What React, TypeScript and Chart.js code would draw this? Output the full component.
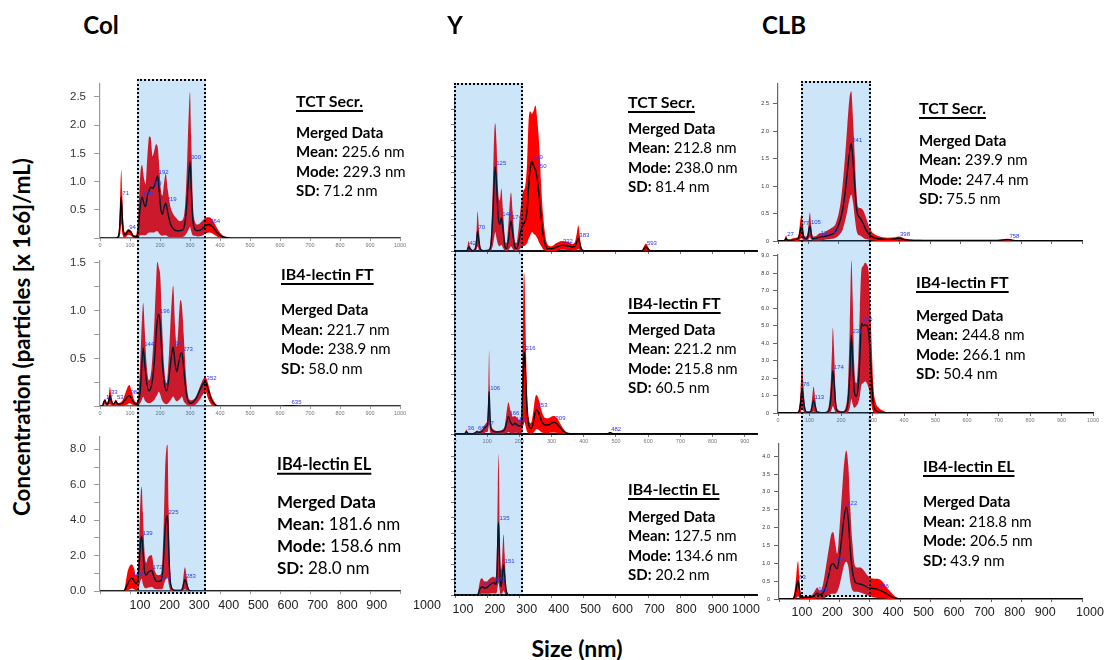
import React, { useEffect, useRef } from 'react';
import { Chart, registerables } from 'chart.js';

Chart.register(...registerables);

// ---------------- Size distributions (size in nm, concentration) ----------------

// Col — TCT Secr.
const colTctSize = [0, 50, 60, 65, 68, 71, 74, 78, 84, 94, 104, 112, 120, 128, 134, 140, 147, 152, 158, 164, 169, 175, 181, 187, 192, 197, 203, 208, 214, 219, 226, 235, 245, 255, 265, 275, 284, 290, 295, 300, 304, 309, 316, 325, 340, 352, 364, 375, 390, 405, 420, 440, 1000];
const colTctMean = [0, 0, 0.02, 0.15, 0.45, 0.73, 0.4, 0.12, 0.06, 0.13, 0.1, 0.03, 0.02, 0.15, 0.55, 0.73, 0.6, 0.56, 0.75, 0.85, 0.9, 0.88, 0.92, 1.02, 1.1, 0.85, 0.5, 0.42, 0.55, 0.62, 0.45, 0.25, 0.16, 0.13, 0.13, 0.14, 0.3, 0.65, 1.05, 1.36, 0.9, 0.35, 0.16, 0.13, 0.16, 0.22, 0.24, 0.2, 0.1, 0.03, 0.01, 0, 0];
const colTctHigh = [0, 0, 0.04, 0.35, 0.9, 1.21, 0.8, 0.25, 0.1, 0.16, 0.13, 0.05, 0.05, 0.45, 1.1, 1.3, 1.05, 0.95, 1.45, 1.8, 1.78, 1.45, 1.55, 1.66, 1.62, 1.3, 0.85, 0.75, 1.0, 1.14, 0.85, 0.55, 0.42, 0.35, 0.3, 0.32, 0.6, 1.3, 2.1, 2.59, 1.8, 0.7, 0.3, 0.24, 0.3, 0.36, 0.37, 0.32, 0.18, 0.07, 0.02, 0, 0];
const colTctLow = [0, 0, 0, 0.02, 0.1, 0.25, 0.1, 0.02, 0.01, 0.06, 0.04, 0, 0, 0.02, 0.05, 0.05, 0.05, 0.05, 0.08, 0.1, 0.1, 0.1, 0.1, 0.12, 0.12, 0.08, 0.05, 0.04, 0.05, 0.05, 0.03, 0.02, 0.02, 0.02, 0.02, 0.02, 0.05, 0.1, 0.15, 0.2, 0.12, 0.05, 0.04, 0.03, 0.04, 0.08, 0.1, 0.08, 0.03, 0, 0, 0, 0];
const colTctPeaks = [71, 94, 140, 169, 192, 219, 300, 364];

// Col — IB4-lectin FT
const colFtSize = [0, 8, 12, 17, 22, 28, 33, 38, 45, 53, 60, 75, 85, 92, 98, 105, 112, 120, 128, 134, 139, 144, 149, 155, 163, 172, 180, 187, 191, 196, 201, 207, 214, 222, 230, 237, 244, 250, 256, 262, 268, 273, 279, 287, 296, 305, 320, 335, 345, 352, 360, 370, 382, 395, 600, 635, 670, 1000];
const colFtMean = [0, 0, 0.04, 0.06, 0.02, 0.04, 0.11, 0.05, 0.02, 0.05, 0.02, 0.03, 0.07, 0.1, 0.11, 0.08, 0.04, 0.02, 0.05, 0.15, 0.4, 0.61, 0.45, 0.26, 0.16, 0.22, 0.42, 0.75, 0.9, 0.96, 0.85, 0.5, 0.25, 0.16, 0.3, 0.5, 0.62, 0.45, 0.36, 0.45, 0.54, 0.56, 0.4, 0.15, 0.04, 0.03, 0.08, 0.18, 0.24, 0.25, 0.18, 0.08, 0.02, 0, 0, 0.005, 0, 0];
const colFtHigh = [0, 0, 0.05, 0.08, 0.03, 0.08, 0.2, 0.1, 0.03, 0.07, 0.03, 0.06, 0.14, 0.2, 0.22, 0.16, 0.08, 0.04, 0.12, 0.45, 0.85, 1.08, 0.8, 0.45, 0.27, 0.4, 0.8, 1.3, 1.51, 1.45, 1.35, 0.85, 0.4, 0.24, 0.55, 1.0, 1.26, 0.85, 0.62, 0.85, 1.11, 1.05, 0.75, 0.3, 0.08, 0.06, 0.1, 0.22, 0.29, 0.3, 0.24, 0.12, 0.04, 0, 0, 0.008, 0, 0];
const colFtLow = [0, 0, 0.01, 0.02, 0, 0.01, 0.02, 0.01, 0, 0.01, 0, 0, 0.01, 0.02, 0.03, 0.02, 0.01, 0, 0.01, 0.03, 0.06, 0.1, 0.06, 0.04, 0.03, 0.04, 0.06, 0.1, 0.12, 0.15, 0.12, 0.06, 0.03, 0.02, 0.04, 0.07, 0.1, 0.07, 0.05, 0.06, 0.08, 0.1, 0.05, 0.02, 0, 0, 0.02, 0.08, 0.13, 0.15, 0.08, 0.02, 0, 0, 0, 0, 0, 0];
const colFtPeaks = [17, 33, 53, 98, 144, 196, 244, 273, 352, 635];

// Col — IB4-lectin EL
const colElSize = [0, 78, 84, 92, 100, 106, 113, 120, 126, 131, 135, 139, 143, 148, 154, 160, 166, 172, 180, 188, 194, 201, 207, 212, 217, 221, 225, 229, 233, 239, 250, 270, 276, 280, 283, 288, 294, 300, 310, 1000];
const colElMean = [0, 0, 0.1, 0.4, 0.65, 0.73, 0.6, 0.42, 0.6, 1.6, 2.7, 3.08, 2.3, 1.2, 0.9, 1.05, 1.12, 1.17, 0.8, 0.55, 0.55, 0.56, 0.8, 1.8, 3.5, 4.1, 4.25, 2.4, 0.8, 0.15, 0.04, 0.04, 0.2, 0.5, 0.64, 0.45, 0.12, 0.02, 0, 0];
const colElHigh = [0, 0, 0.3, 1.1, 1.45, 1.5, 1.3, 0.9, 1.2, 3.2, 5.2, 5.9, 4.4, 2.3, 1.6, 1.9, 2.0, 2.04, 1.3, 0.95, 0.9, 0.92, 1.5, 3.6, 6.8, 8.0, 8.26, 4.6, 1.6, 0.3, 0.08, 0.08, 0.45, 1.1, 1.34, 0.9, 0.25, 0.04, 0, 0];
const colElLow = [0, 0, 0, 0.05, 0.1, 0.15, 0.1, 0.05, 0.1, 0.3, 0.6, 0.7, 0.4, 0.2, 0.15, 0.2, 0.22, 0.25, 0.15, 0.1, 0.1, 0.1, 0.1, 0.3, 0.6, 0.7, 0.8, 0.4, 0.1, 0, 0, 0, 0.02, 0.08, 0.1, 0.06, 0.01, 0, 0, 0];
const colElPeaks = [106, 139, 172, 201, 225, 283];

// Y — TCT Secr.
const yTctSize = [0, 35, 38, 42, 47, 55, 62, 67, 70, 74, 79, 90, 105, 112, 118, 122, 125, 129, 134, 139, 144, 149, 155, 160, 166, 171, 174, 179, 185, 191, 198, 205, 212, 218, 224, 229, 234, 239, 244, 250, 256, 262, 268, 274, 281, 288, 300, 315, 332, 350, 365, 373, 379, 383, 387, 392, 400, 580, 587, 593, 600, 608, 938];
const yTctMean = [0, 0, 0.05, 0.25, 0.12, 0.02, 0.1, 0.6, 1.25, 0.7, 0.1, 0.02, 0.05, 0.5, 2.5, 4.6, 5.35, 4.2, 2.2, 1.7, 2.1, 1.4, 0.3, 0.15, 0.7, 1.6, 1.91, 1.2, 0.3, 0.15, 0.6, 1.3, 1.7, 1.9, 2.6, 4.2, 5.3, 5.71, 5.4, 5.14, 4.5, 3.3, 2.0, 1.0, 0.35, 0.15, 0.15, 0.25, 0.36, 0.33, 0.25, 0.3, 0.6, 0.79, 0.55, 0.15, 0.02, 0, 0.15, 0.25, 0.12, 0, 0];
const yTctHigh = [0, 0, 0.15, 0.64, 0.3, 0.05, 0.2, 1.3, 2.53, 1.5, 0.25, 0.04, 0.1, 1.1, 4.5, 7.5, 8.11, 6.8, 3.8, 3.2, 3.97, 2.6, 0.8, 0.5, 1.8, 3.3, 3.72, 2.5, 0.8, 0.5, 1.5, 2.9, 3.8, 4.08, 5.6, 8.4, 8.85, 8.7, 8.9, 9.24, 8.2, 6.6, 4.0, 2.2, 0.9, 0.4, 0.3, 0.5, 0.64, 0.58, 0.45, 0.6, 1.2, 1.63, 1.1, 0.3, 0.04, 0, 0.3, 0.47, 0.25, 0, 0];
const yTctLow = [0, 0, 0, 0.05, 0.02, 0, 0.01, 0.1, 0.3, 0.1, 0.01, 0, 0, 0.05, 0.4, 0.9, 1.2, 0.8, 0.4, 0.3, 0.4, 0.2, 0.02, 0, 0.05, 0.2, 0.3, 0.15, 0.02, 0, 0.05, 0.2, 0.3, 0.35, 0.5, 0.8, 1.0, 1.2, 1.1, 1.0, 0.8, 0.5, 0.3, 0.1, 0.02, 0, 0, 0.02, 0.08, 0.06, 0.03, 0.02, 0.08, 0.12, 0.06, 0.01, 0, 0, 0.01, 0.03, 0.01, 0, 0];
const yTctPeaks = [42, 70, 125, 144, 174, 239, 250, 332, 383, 593];

// Y — IB4-lectin FT
const yFtSize = [0, 30, 33, 36, 40, 55, 63, 68, 74, 85, 92, 97, 101, 104, 106, 108, 111, 118, 130, 145, 155, 161, 166, 172, 180, 186, 193, 200, 206, 209, 212, 214, 216, 219, 223, 229, 236, 243, 248, 253, 260, 270, 280, 290, 300, 309, 320, 333, 345, 360, 470, 478, 482, 488, 495, 938];
const yFtMean = [0, 0, 0.08, 0.12, 0.03, 0.02, 0.06, 0.12, 0.08, 0.15, 0.3, 0.37, 0.45, 1.3, 2.13, 1.2, 0.35, 0.15, 0.1, 0.12, 0.25, 0.6, 0.87, 0.6, 0.45, 0.54, 0.45, 0.4, 0.45, 1.5, 3.2, 3.9, 4.11, 3.0, 1.4, 0.45, 0.29, 0.55, 1.0, 1.24, 1.05, 0.6, 0.45, 0.45, 0.55, 0.59, 0.45, 0.2, 0.05, 0.01, 0, 0.04, 0.07, 0.03, 0, 0];
const yFtHigh = [0, 0, 0.15, 0.23, 0.06, 0.04, 0.1, 0.18, 0.14, 0.25, 0.45, 0.55, 0.8, 2.6, 4.18, 2.4, 0.6, 0.25, 0.15, 0.2, 0.45, 1.2, 1.6, 1.2, 0.87, 0.9, 0.8, 0.7, 0.9, 3.5, 6.8, 8.12, 7.8, 5.5, 2.6, 0.8, 0.54, 1.1, 1.75, 1.96, 1.75, 1.1, 0.8, 0.79, 0.88, 0.9, 0.72, 0.35, 0.1, 0.02, 0, 0.06, 0.1, 0.05, 0, 0];
const yFtLow = [0, 0, 0, 0.02, 0, 0, 0, 0.02, 0.01, 0.02, 0.05, 0.1, 0.1, 0.3, 0.5, 0.2, 0.05, 0.02, 0.01, 0.01, 0.02, 0.05, 0.1, 0.05, 0.04, 0.06, 0.05, 0.04, 0.05, 0.2, 0.4, 0.5, 0.6, 0.4, 0.15, 0.03, 0.02, 0.05, 0.15, 0.25, 0.2, 0.08, 0.05, 0.05, 0.07, 0.08, 0.05, 0.01, 0, 0, 0, 0, 0.01, 0, 0, 0];
const yFtPeaks = [36, 68, 97, 106, 166, 186, 216, 253, 309, 482];

// Y — IB4-lectin EL
const yElSize = [0, 70, 74, 79, 84, 92, 100, 110, 120, 126, 130, 133, 135, 137, 140, 143, 146, 149, 151, 154, 158, 163, 168, 938];
const yElMean = [0, 0, 0.2, 0.45, 0.54, 0.45, 0.5, 0.7, 0.8, 0.7, 1.2, 3.6, 4.73, 3.8, 1.2, 0.54, 1.0, 1.7, 1.95, 1.3, 0.4, 0.05, 0, 0];
const yElHigh = [0, 0, 0.5, 1.0, 1.08, 0.85, 0.9, 1.1, 1.19, 1.1, 2.6, 7.0, 9.18, 7.5, 2.4, 1.63, 2.2, 3.5, 3.95, 2.7, 0.9, 0.1, 0, 0];
const yElLow = [0, 0, 0, 0.05, 0.1, 0.08, 0.08, 0.1, 0.12, 0.1, 0.2, 0.6, 0.8, 0.6, 0.15, 0.05, 0.1, 0.2, 0.3, 0.15, 0.02, 0, 0, 0];
const yElPeaks = [84, 120, 135, 151];

// CLB — TCT Secr.
const clbTctSize = [0, 20, 24, 27, 31, 40, 50, 60, 68, 73, 77, 81, 86, 92, 99, 102, 105, 109, 114, 125, 137, 150, 165, 177, 190, 203, 212, 220, 228, 235, 241, 247, 252, 258, 263, 270, 280, 290, 302, 315, 330, 360, 385, 398, 420, 480, 600, 720, 745, 758, 775, 800, 1000];
const clbTctMean = [0, 0, 0.03, 0.05, 0.01, 0.01, 0.02, 0.03, 0.06, 0.18, 0.26, 0.18, 0.05, 0.04, 0.1, 0.22, 0.27, 0.15, 0.04, 0.05, 0.07, 0.08, 0.1, 0.12, 0.18, 0.35, 0.55, 0.85, 1.25, 1.6, 1.78, 1.45, 1.05, 0.6, 0.47, 0.42, 0.32, 0.2, 0.11, 0.06, 0.04, 0.03, 0.04, 0.05, 0.02, 0.01, 0.01, 0.01, 0.02, 0.025, 0.01, 0, 0];
const clbTctHigh = [0, 0, 0.07, 0.1, 0.03, 0.03, 0.05, 0.06, 0.12, 0.35, 0.48, 0.36, 0.1, 0.08, 0.2, 0.42, 0.52, 0.3, 0.08, 0.09, 0.14, 0.15, 0.2, 0.24, 0.32, 0.6, 1.0, 1.5, 2.1, 2.6, 2.73, 2.2, 1.6, 0.9, 0.62, 0.6, 0.56, 0.42, 0.23, 0.13, 0.09, 0.06, 0.07, 0.08, 0.04, 0.02, 0.02, 0.02, 0.035, 0.04, 0.02, 0, 0];
const clbTctLow = [0, 0, 0, 0.01, 0, 0, 0, 0, 0.01, 0.03, 0.06, 0.03, 0.01, 0.01, 0.02, 0.05, 0.07, 0.03, 0.01, 0.01, 0.01, 0.02, 0.03, 0.04, 0.06, 0.12, 0.2, 0.35, 0.55, 0.75, 0.85, 0.7, 0.45, 0.2, 0.12, 0.1, 0.06, 0.03, 0.02, 0.01, 0, 0, 0, 0.01, 0, 0, 0, 0, 0, 0, 0, 0, 0];
const clbTctPeaks = [27, 77, 105, 137, 177, 241, 398, 758];

// CLB — IB4-lectin FT
const clbFtSize = [0, 60, 67, 72, 76, 80, 85, 92, 103, 108, 113, 118, 124, 150, 160, 167, 172, 174, 178, 183, 190, 205, 215, 222, 228, 233, 237, 242, 249, 255, 260, 265, 270, 276, 282, 288, 293, 298, 303, 310, 320, 335, 350, 1000];
const clbFtMean = [0, 0, 0.1, 0.6, 1.42, 0.9, 0.25, 0.04, 0.05, 0.35, 0.72, 0.4, 0.05, 0.02, 0.1, 0.7, 1.9, 2.42, 1.8, 0.5, 0.08, 0.04, 0.12, 0.6, 2.2, 4.45, 3.0, 1.3, 0.95, 1.6, 3.2, 5.15, 5.0, 5.05, 5.0, 4.6, 3.2, 1.6, 0.5, 0.15, 0.05, 0.02, 0, 0];
const clbFtHigh = [0, 0, 0.3, 1.3, 2.75, 1.8, 0.5, 0.08, 0.1, 0.8, 1.52, 0.85, 0.12, 0.05, 0.3, 1.6, 3.9, 4.89, 3.6, 1.1, 0.2, 0.1, 0.35, 1.5, 5.0, 8.75, 6.6, 2.8, 1.7, 3.2, 6.0, 8.2, 8.4, 8.6, 8.5, 8.0, 6.0, 3.6, 1.5, 0.6, 0.3, 0.12, 0.02, 0];
const clbFtLow = [0, 0, 0, 0.05, 0.3, 0.15, 0.02, 0, 0, 0.03, 0.1, 0.04, 0, 0, 0, 0.05, 0.3, 0.4, 0.25, 0.03, 0, 0, 0, 0.05, 0.3, 0.8, 0.5, 0.3, 0.4, 0.6, 1.0, 1.6, 1.7, 1.8, 1.7, 1.4, 0.9, 0.3, 0.05, 0, 0, 0, 0, 0];
const clbFtPeaks = [76, 113, 174, 233, 265];

// CLB — IB4-lectin EL
const clbElSize = [0, 42, 50, 56, 60, 63, 67, 72, 80, 95, 110, 120, 126, 135, 145, 155, 165, 172, 179, 186, 192, 200, 208, 215, 222, 229, 235, 242, 250, 258, 268, 280, 293, 305, 315, 326, 340, 355, 370, 385, 400, 1000];
const clbElMean = [0, 0, 0.05, 0.25, 0.45, 0.51, 0.3, 0.04, 0.04, 0.05, 0.06, 0.12, 0.16, 0.12, 0.16, 0.35, 0.7, 0.95, 0.99, 0.9, 0.85, 1.2, 1.8, 2.3, 2.58, 2.2, 1.4, 0.8, 0.5, 0.44, 0.42, 0.38, 0.32, 0.3, 0.29, 0.27, 0.22, 0.15, 0.07, 0.02, 0, 0];
const clbElHigh = [0, 0, 0.15, 0.55, 0.95, 1.06, 0.6, 0.1, 0.08, 0.08, 0.12, 0.25, 0.32, 0.22, 0.4, 0.9, 1.45, 1.8, 1.87, 1.55, 1.27, 2.0, 3.0, 3.8, 4.16, 3.7, 2.6, 1.6, 0.95, 0.88, 0.88, 0.8, 0.65, 0.58, 0.57, 0.57, 0.5, 0.33, 0.18, 0.06, 0.01, 0];
const clbElLow = [0, 0, 0, 0.02, 0.05, 0.08, 0.03, 0, 0, 0, 0, 0.01, 0.02, 0.01, 0.02, 0.05, 0.1, 0.15, 0.15, 0.15, 0.2, 0.4, 0.7, 0.95, 1.04, 0.9, 0.5, 0.25, 0.2, 0.2, 0.18, 0.15, 0.1, 0.06, 0.04, 0.03, 0.02, 0.01, 0, 0, 0, 0];
const clbElPeaks = [63, 126, 179, 222, 326];

// ---------------- Axis ticks ----------------
const sizeTicks = [0, 100, 200, 300, 400, 500, 600, 700, 800, 900, 1000];
const sizeTicksY = [0, 100, 200, 300, 400, 500, 600, 700, 800, 900];
const colTctTicks = [0, 0.5, 1, 1.5, 2, 2.5];
const colFtTicks = [0, 0.25, 0.5, 0.75, 1, 1.25, 1.5];
const colElTicks = [0, 1, 2, 3, 4, 5, 6, 7, 8];
const yTctTicks = [0, 1, 2, 3, 4, 5, 6, 7, 8, 9];
const yFtTicks = [0, 1, 2, 3, 4, 5, 6, 7, 8];
const yElTicks = [0, 1, 2, 3, 4, 5, 6, 7, 8, 9];
const clbTctTicks = [0, 0.5, 1, 1.5, 2, 2.5];
const clbFtTicks = [0, 1, 2, 3, 4, 5, 6, 7, 8, 9];
const clbElTicks = [0, 0.5, 1, 1.5, 2, 2.5, 3, 3.5, 4];
const bottomSizeLabels = ['100', '200', '300', '400', '500', '600', '700', '800', '900', '1000'];

// ---------------- Summary statistics ----------------
const fractionNames = ['TCT Secr.', 'IB4-lectin FT', 'IB4-lectin EL'];
const colMean = [225.6, 221.7, 181.6];
const colMode = [229.3, 238.9, 158.6];
const colSd = [71.2, 58.0, 28.0];
const yMeanNm = [212.8, 221.2, 127.5];
const yModeNm = [238.0, 215.8, 134.6];
const ySdNm = [81.4, 60.5, 20.2];
const clbMean = [239.9, 244.8, 218.8];
const clbMode = [247.4, 266.1, 206.5];
const clbSd = [75.5, 50.4, 43.9];

// ---------------- Styling ----------------
const BAND_RED = 'rgb(255,0,0)';
const PEAK_BLUE = '#2f2fff';
const SANS = '"Liberation Sans", Arial, sans-serif';
const TEXT_FONT = 'Lato, "Open Sans", sans-serif';
const PAD_TOP = 6;
const PAD_RIGHT = 16;
const X_AXIS_H = 12;

type Panel = {
  size: number[]; mean: number[]; high: number[]; low: number[]; peaks: number[];
  axisX: number; rightX: number; xMax: number; xTicks: number[]; xLabels: boolean;
  topY: number; baseY: number; yMax: number; yTicks: number[];
  yLabel: (v: number) => string; yFont: number; yW: number; yTick: number; yPad: number;
  axisColor: string; xAxisColor: string; xAxisWidth: number;
};

const colTopLabel = (v: number) => (v === 0 ? '' : v.toFixed(1));
const colFtLabel = (v: number) => (v > 0 && Math.abs(v * 2 - Math.round(v * 2)) < 1e-6 ? v.toFixed(1) : '');
const colElLabel = (v: number) => (v % 2 === 0 ? v.toFixed(1) : '');
const noLabel = () => '';
const clbLabel = (v: number) => (v === 0 ? '0' : v.toFixed(1));

const colBase = { axisX: 100, rightX: 400, xMax: 1000, xTicks: sizeTicks, yFont: 11.5, yW: 40, yTick: 6, yPad: 8, axisColor: '#9a9a9a', xAxisColor: '#6a6a6a', xAxisWidth: 1.5 };
const yBase = { axisX: 455, rightX: 757, xMax: 938, xTicks: sizeTicksY, yFont: 0, yW: 8, yTick: 4, yPad: 1, axisColor: '#777', xAxisColor: '#111', xAxisWidth: 2 };
const clbBase = { xMax: 1000, xTicks: sizeTicks, yFont: 5.5, yW: 20, yTick: 5, yPad: 4, axisColor: '#666', xAxisColor: '#111', xAxisWidth: 1.5 };

const panels: Panel[] = [
  { ...colBase, size: colTctSize, mean: colTctMean, high: colTctHigh, low: colTctLow, peaks: colTctPeaks, xLabels: true, topY: 75, baseY: 241, yMax: 2.73, yTicks: colTctTicks, yLabel: colTopLabel },
  { ...colBase, size: colFtSize, mean: colFtMean, high: colFtHigh, low: colFtLow, peaks: colFtPeaks, xLabels: true, topY: 252, baseY: 409, yMax: 1.52, yTicks: colFtTicks, yLabel: colFtLabel },
  { ...colBase, size: colElSize, mean: colElMean, high: colElHigh, low: colElLow, peaks: colElPeaks, xLabels: false, topY: 428, baseY: 594, yMax: 8.7, yTicks: colElTicks, yLabel: colElLabel, xAxisColor: '#444' },
  { ...yBase, size: yTctSize, mean: yTctMean, high: yTctHigh, low: yTctLow, peaks: yTctPeaks, xLabels: false, topY: 95, baseY: 251, yMax: 9.9, yTicks: yTctTicks, yLabel: noLabel },
  { ...yBase, size: yFtSize, mean: yFtMean, high: yFtHigh, low: yFtLow, peaks: yFtPeaks, xLabels: true, topY: 256, baseY: 434, yMax: 8.95, yTicks: yFtTicks, yLabel: noLabel },
  { ...yBase, size: yElSize, mean: yElMean, high: yElHigh, low: yElLow, peaks: yElPeaks, xLabels: false, topY: 443, baseY: 595, yMax: 9.87, yTicks: yElTicks, yLabel: noLabel },
  { ...clbBase, axisX: 778, rightX: 1082, size: clbTctSize, mean: clbTctMean, high: clbTctHigh, low: clbTctLow, peaks: clbTctPeaks, xLabels: false, topY: 82, baseY: 241, yMax: 2.875, yTicks: clbTctTicks, yLabel: clbLabel },
  { ...clbBase, axisX: 778, rightX: 1093, size: clbFtSize, mean: clbFtMean, high: clbFtHigh, low: clbFtLow, peaks: clbFtPeaks, xLabels: true, topY: 253, baseY: 413, yMax: 9.09, yTicks: clbFtTicks, yLabel: clbLabel },
  { ...clbBase, axisX: 779, rightX: 1082, size: clbElSize, mean: clbElMean, high: clbElHigh, low: clbElLow, peaks: clbElPeaks, xLabels: false, topY: 442, baseY: 599, yMax: 4.36, yTicks: clbElTicks, yLabel: clbLabel },
];

function DistributionChart({ p }: { p: Panel }) {
  const ref = useRef<HTMLCanvasElement | null>(null);
  const left = p.axisX - p.yW;
  const top = p.topY - PAD_TOP;
  const width = p.yW + (p.rightX - p.axisX) + PAD_RIGHT;
  const height = PAD_TOP + (p.baseY - p.topY) + X_AXIS_H;

  useEffect(() => {
    if (!ref.current) return;
    const pts = (vals: number[]) => p.size.map((x, i) => ({ x, y: vals[i] }));
    // blue size annotations at each labelled peak of the mean curve
    const peakLabels = {
      id: 'peakLabels',
      afterDatasetsDraw(chart: any) {
        const ctx = chart.ctx;
        const xs = chart.scales.x;
        const ys = chart.scales.y;
        ctx.save();
        ctx.font = `6px ${SANS}`;
        ctx.fillStyle = PEAK_BLUE;
        ctx.textBaseline = 'bottom';
        p.peaks.forEach((s) => {
          const i = p.size.indexOf(s);
          if (i < 0) return;
          ctx.fillText(String(s), xs.getPixelForValue(s) + 1, ys.getPixelForValue(p.mean[i]) - 0.5);
        });
        ctx.restore();
      },
    };
    const chart = new Chart(ref.current, {
      type: 'line',
      data: {
        datasets: [
          // upper edge of the error band, filled down to the lower edge
          { data: pts(p.high), order: 2, borderWidth: 0, borderColor: 'rgba(0,0,0,0)', backgroundColor: BAND_RED, fill: '+1', pointRadius: 0, cubicInterpolationMode: 'monotone' },
          // lower edge of the error band
          { data: pts(p.low), order: 3, borderWidth: 0, borderColor: 'rgba(0,0,0,0)', backgroundColor: BAND_RED, fill: false, pointRadius: 0, cubicInterpolationMode: 'monotone' },
          // merged mean distribution
          { data: pts(p.mean), order: 0, borderWidth: 1.4, borderColor: '#000', fill: false, pointRadius: 0, cubicInterpolationMode: 'monotone' },
        ],
      } as any,
      options: {
        responsive: false,
        animation: false,
        devicePixelRatio: 1,
        events: [],
        layout: { padding: { top: PAD_TOP, right: PAD_RIGHT, left: 0, bottom: 0 } },
        plugins: { legend: { display: false }, tooltip: { enabled: false } },
        scales: {
          x: {
            type: 'linear',
            min: 0,
            max: p.xMax,
            afterFit: (s: any) => { s.height = X_AXIS_H; s.paddingLeft = 0; s.paddingRight = 0; },
            afterBuildTicks: (s: any) => { s.ticks = p.xTicks.map((v) => ({ value: v })); },
            ticks: { display: p.xLabels, autoSkip: false, maxRotation: 0, padding: 1, color: '#777', font: { size: 5.5, family: SANS }, callback: (v: any) => String(v) },
            grid: { display: true, drawOnChartArea: false, drawTicks: true, tickLength: 3, color: p.axisColor },
            border: { display: true, color: p.xAxisColor, width: p.xAxisWidth },
          },
          y: {
            type: 'linear',
            min: 0,
            max: p.yMax,
            afterFit: (s: any) => { s.width = p.yW; },
            afterBuildTicks: (s: any) => { s.ticks = p.yTicks.map((v) => ({ value: v })); },
            ticks: { display: p.yFont > 0, autoSkip: false, padding: p.yPad, color: '#333', font: { size: p.yFont || 6, family: SANS }, callback: (v: any) => p.yLabel(Number(v)) },
            grid: { display: true, drawOnChartArea: false, drawTicks: true, tickLength: p.yTick, color: p.axisColor },
            border: { display: true, color: p.axisColor, width: 1.2 },
          },
        },
      } as any,
      plugins: [peakLabels],
    });
    return () => chart.destroy();
  }, [p]);

  return (
    <canvas
      ref={ref}
      width={width}
      height={height}
      style={{ position: 'absolute', left, top, width, height }}
    />
  );
}

type StatSpec = { x: number; titleY: number; firstY: number; step: number; size: number; titleSize: number; title: string; mean: number; mode: number; sd: number };

function StatBlock({ s }: { s: StatSpec }) {
  const base: React.CSSProperties = { position: 'absolute', left: s.x, transform: 'translateY(-50%)', lineHeight: 1, whiteSpace: 'nowrap', fontFamily: TEXT_FONT, color: '#000' };
  const rows: [string, number][] = [['Mean:', s.mean], ['Mode:', s.mode], ['SD:', s.sd]];
  return (
    <>
      <div style={{ ...base, top: s.titleY, fontSize: s.titleSize, fontWeight: 700, textDecoration: 'underline', textDecorationThickness: '2px', textUnderlineOffset: '3px' }}>{s.title}</div>
      <div style={{ ...base, top: s.firstY, fontSize: s.size, fontWeight: 700 }}>Merged Data</div>
      {rows.map(([k, v], i) => (
        <div key={k} style={{ ...base, top: s.firstY + (i + 1) * s.step, fontSize: s.size }}>
          <span style={{ fontWeight: 700 }}>{k}</span> {v.toFixed(1)} nm
        </div>
      ))}
    </>
  );
}

const stats: StatSpec[] = [
  { x: 296, titleY: 101, firstY: 132, step: 19.3, size: 15, titleSize: 16, title: fractionNames[0], mean: colMean[0], mode: colMode[0], sd: colSd[0] },
  { x: 281, titleY: 274, firstY: 309, step: 19.7, size: 15, titleSize: 16, title: fractionNames[1], mean: colMean[1], mode: colMode[1], sd: colSd[1] },
  { x: 277, titleY: 464, firstY: 501, step: 22, size: 17, titleSize: 16.5, title: fractionNames[2], mean: colMean[2], mode: colMode[2], sd: colSd[2] },
  { x: 628, titleY: 102, firstY: 128, step: 19.3, size: 15, titleSize: 16, title: fractionNames[0], mean: yMeanNm[0], mode: yModeNm[0], sd: ySdNm[0] },
  { x: 628, titleY: 303, firstY: 329, step: 19.3, size: 15, titleSize: 16, title: fractionNames[1], mean: yMeanNm[1], mode: yModeNm[1], sd: ySdNm[1] },
  { x: 628, titleY: 489, firstY: 516, step: 19.3, size: 15, titleSize: 16, title: fractionNames[2], mean: yMeanNm[2], mode: yModeNm[2], sd: ySdNm[2] },
  { x: 919, titleY: 108, firstY: 140, step: 19.3, size: 15, titleSize: 16, title: fractionNames[0], mean: clbMean[0], mode: clbMode[0], sd: clbSd[0] },
  { x: 916, titleY: 282, firstY: 315, step: 19.3, size: 15, titleSize: 16, title: fractionNames[1], mean: clbMean[1], mode: clbMode[1], sd: clbSd[1] },
  { x: 923, titleY: 466, firstY: 501, step: 19.7, size: 15, titleSize: 16, title: fractionNames[2], mean: clbMean[2], mode: clbMode[2], sd: clbSd[2] },
];

// Gated size window of each column (translucent blue, dotted outline)
const gates = [
  { left: 137, top: 79, right: 206, bottom: 594 },
  { left: 454, top: 83, right: 523, bottom: 596 },
  { left: 801, top: 81, right: 871, bottom: 597 },
];

// Shared size labels under each column
const bottomRows = [
  { start: 140, step: 29.6, last: 427, y: 605 },
  { start: 463, step: 31.9, last: 746, y: 609 },
  { start: 802, step: 30.4, last: 1090, y: 612 },
];

const columnHeads = [
  { text: 'Col', x: 101 },
  { text: 'Y', x: 455 },
  { text: 'CLB', x: 784 },
];

export default function App() {
  return (
    <div style={{ position: 'fixed', left: 0, top: 0, width: 1105, height: 660, background: '#fff', overflow: 'hidden' }}>
      {panels.map((p, i) => <DistributionChart key={i} p={p} />)}

      {gates.map((g, i) => (
        <div key={i} style={{ position: 'absolute', left: g.left, top: g.top, width: g.right - g.left, height: g.bottom - g.top, boxSizing: 'border-box', background: 'rgba(0,125,220,0.2)', border: '2px dotted #000', pointerEvents: 'none' }} />
      ))}

      {stats.map((s, i) => <StatBlock key={i} s={s} />)}

      {bottomRows.map((r, ri) =>
        bottomSizeLabels.map((t, i) => (
          <div key={`${ri}-${t}`} style={{ position: 'absolute', left: i === bottomSizeLabels.length - 1 ? r.last : r.start + i * r.step, top: r.y, transform: 'translate(-50%,-50%)', fontFamily: SANS, fontSize: 12.5, color: '#222', lineHeight: 1, whiteSpace: 'nowrap' }}>{t}</div>
        ))
      )}

      {columnHeads.map((h) => (
        <div key={h.text} style={{ position: 'absolute', left: h.x, top: 25, transform: 'translate(-50%,-50%)', fontFamily: TEXT_FONT, fontWeight: 700, fontSize: 24, lineHeight: 1 }}>{h.text}</div>
      ))}

      <div style={{ position: 'absolute', left: 22, top: 337, transform: 'translate(-50%,-50%) rotate(-90deg)', fontFamily: TEXT_FONT, fontWeight: 700, fontSize: 22.3, whiteSpace: 'nowrap', lineHeight: 1 }}>
        Concentration (particles [x 1e6]/mL)
      </div>
      <div style={{ position: 'absolute', left: 577, top: 648, transform: 'translate(-50%,-50%)', fontFamily: TEXT_FONT, fontWeight: 700, fontSize: 23, whiteSpace: 'nowrap', lineHeight: 1 }}>
        Size (nm)
      </div>
    </div>
  );
}
